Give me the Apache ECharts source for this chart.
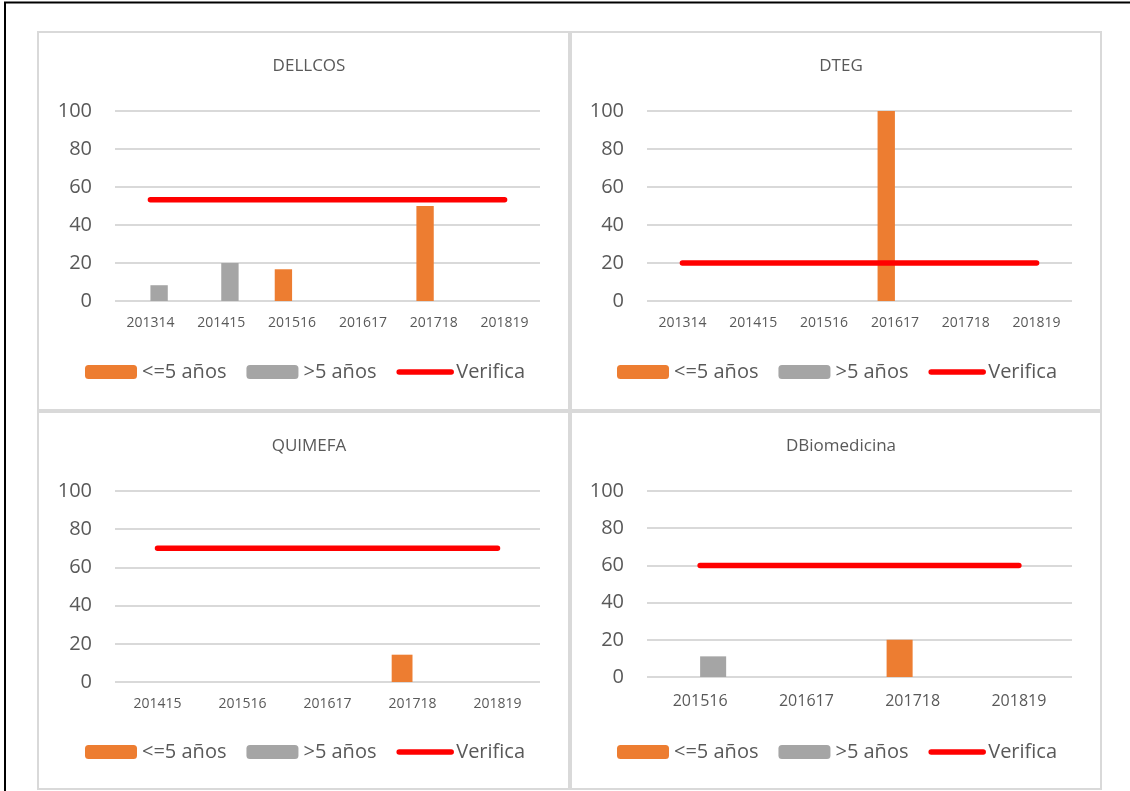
<!DOCTYPE html>
<html>
<head>
<meta charset="utf-8">
<script src="https://cdn.jsdelivr.net/npm/echarts@6/dist/echarts.min.js"></script>
<style>
html,body{margin:0;padding:0;background:#fff;}
#c{width:1130px;height:791px;}
</style>
</head>
<body>
<div id="c"></div>
<script>
// ---- data ----
const titles = ['DELLCOS', 'DTEG', 'QUIMEFA', 'DBiomedicina'];
const seriesNames = ['<=5 años', '>5 años', 'Verifica'];
const yTicks = [0, 20, 40, 60, 80, 100];

const catsDELLCOS = ['201314', '201415', '201516', '201617', '201718', '201819'];
const le5DELLCOS = [0, 0, 16.7, 0, 50, 0];
const gt5DELLCOS = [8.3, 20, 0, 0, 0, 0];
const verDELLCOS = [53.3, 53.3, 53.3, 53.3, 53.3, 53.3];

const catsDTEG = ['201314', '201415', '201516', '201617', '201718', '201819'];
const le5DTEG = [0, 0, 0, 100, 0, 0];
const gt5DTEG = [0, 0, 0, 0, 0, 0];
const verDTEG = [20, 20, 20, 20, 20, 20];

const catsQUIMEFA = ['201415', '201516', '201617', '201718', '201819'];
const le5QUIMEFA = [0, 0, 0, 14.3, 0];
const gt5QUIMEFA = [0, 0, 0, 0, 0];
const verQUIMEFA = [70, 70, 70, 70, 70];

const catsDBio = ['201516', '201617', '201718', '201819'];
const le5DBio = [0, 0, 20, 0];
const gt5DBio = [11.1, 0, 0, 0];
const verDBio = [60, 60, 60, 60];

// ---- layout / style ----
const FONT = 'Open Sans';
const TXT = '#595959';
const ORANGE = '#ED7D31';
const GRAY = '#A5A5A5';
const RED = '#FF0000';
const GRID_LINE = '#D9D9D9';

const panels = [
  {title: titles[0], cats: catsDELLCOS, le5: le5DELLCOS, gt5: gt5DELLCOS, ver: verDELLCOS,
   grid: {left: 115, top: 111, width: 425, height: 190}, titleX: 304, titleY: 61, legendX: 80, legendY: 357, catFont: 14, catMargin: 15},
  {title: titles[1], cats: catsDTEG, le5: le5DTEG, gt5: gt5DTEG, ver: verDTEG,
   grid: {left: 647, top: 111, width: 425, height: 190}, titleX: 836, titleY: 61, legendX: 612, legendY: 357, catFont: 14, catMargin: 15},
  {title: titles[2], cats: catsQUIMEFA, le5: le5QUIMEFA, gt5: gt5QUIMEFA, ver: verQUIMEFA,
   grid: {left: 115, top: 491, width: 425, height: 191}, titleX: 304, titleY: 441, legendX: 80, legendY: 737, catFont: 14, catMargin: 15},
  {title: titles[3], cats: catsDBio, le5: le5DBio, gt5: gt5DBio, ver: verDBio,
   grid: {left: 647, top: 491, width: 425, height: 186}, titleX: 836, titleY: 441, legendX: 612, legendY: 737, catFont: 16, catMargin: 16}
];

const option = {
  animation: false,
  backgroundColor: '#fff',
  textStyle: {fontFamily: FONT},
  title: [], legend: [], grid: [], xAxis: [], yAxis: [], series: [],
  graphic: [
    {type: 'rect', shape: {x: 38, y: 32, width: 531, height: 378}, style: {fill: 'none', stroke: GRID_LINE, lineWidth: 2}, silent: true},
    {type: 'rect', shape: {x: 571, y: 32, width: 530, height: 378}, style: {fill: 'none', stroke: GRID_LINE, lineWidth: 2}, silent: true},
    {type: 'rect', shape: {x: 38, y: 412, width: 531, height: 377}, style: {fill: 'none', stroke: GRID_LINE, lineWidth: 2}, silent: true},
    {type: 'rect', shape: {x: 571, y: 412, width: 530, height: 377}, style: {fill: 'none', stroke: GRID_LINE, lineWidth: 2}, silent: true},
    {type: 'line', shape: {x1: 4, y1: 2.5, x2: 1130, y2: 2.5}, style: {stroke: '#000', lineWidth: 2}, silent: true},
    {type: 'line', shape: {x1: 5, y1: 2, x2: 5, y2: 791}, style: {stroke: '#000', lineWidth: 2}, silent: true}
  ]
};

panels.forEach((p, i) => {
  option.title.push({
    text: p.title, left: p.titleX, top: p.titleY, textAlign: 'center', textVerticalAlign: 'middle',
    textStyle: {fontFamily: FONT, fontSize: 17, fontWeight: 'normal', color: TXT}
  });
  option.legend.push({
    data: [
      {name: seriesNames[0]},
      {name: seriesNames[1]},
      {name: seriesNames[2], itemStyle: {opacity: 0}, lineStyle: {width: 5.5, cap: 'round', color: RED}}
    ],
    left: p.legendX, top: p.legendY, orient: 'horizontal',
    itemWidth: 52, itemHeight: 14, itemGap: 20,
    textStyle: {fontFamily: FONT, fontSize: 20, color: TXT},
    selectedMode: false
  });
  option.grid.push(Object.assign({containLabel: false}, p.grid));
  option.xAxis.push({
    type: 'category', gridIndex: i, data: p.cats,
    axisLine: {show: false}, axisTick: {show: false},
    axisLabel: {fontFamily: FONT, fontSize: p.catFont, color: TXT, margin: p.catMargin, interval: 0},
    splitLine: {show: false}
  });
  option.yAxis.push({
    type: 'value', gridIndex: i, min: yTicks[0], max: yTicks[yTicks.length - 1], interval: 20,
    axisLine: {show: false}, axisTick: {show: false},
    axisLabel: {fontFamily: FONT, fontSize: 20, color: TXT, margin: 23},
    splitLine: {show: true, lineStyle: {color: GRID_LINE, width: 2}}
  });
  option.series.push({
    name: seriesNames[0], type: 'bar', xAxisIndex: i, yAxisIndex: i, data: p.le5,
    itemStyle: {color: ORANGE}, barGap: '0%', barCategoryGap: '51%'
  });
  option.series.push({
    name: seriesNames[1], type: 'bar', xAxisIndex: i, yAxisIndex: i, data: p.gt5,
    itemStyle: {color: GRAY}, barGap: '0%', barCategoryGap: '51%'
  });
  option.series.push({
    name: seriesNames[2], type: 'line', xAxisIndex: i, yAxisIndex: i, data: p.ver,
    symbol: 'none', showSymbol: false,
    lineStyle: {color: RED, width: 5.5, cap: 'round'}, itemStyle: {color: RED}, z: 3
  });
});

const chart = echarts.init(document.getElementById('c'), null, {renderer: 'canvas'});
chart.setOption(option);
</script>
</body>
</html>
